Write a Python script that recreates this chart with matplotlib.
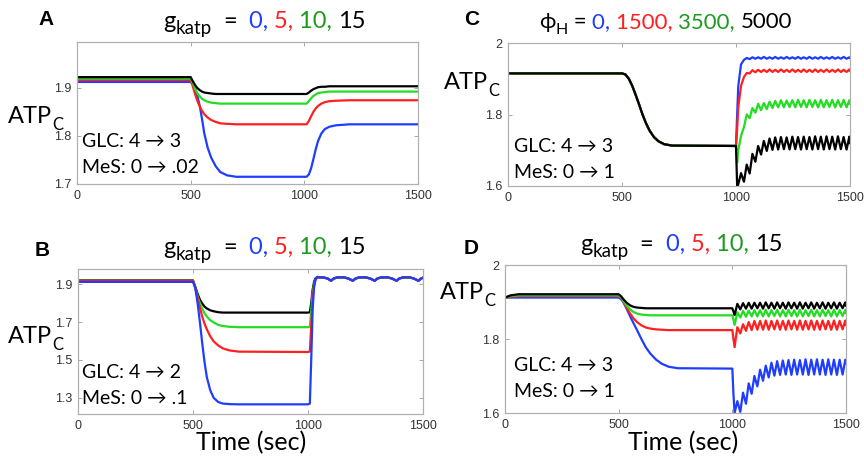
import numpy as np
import matplotlib
matplotlib.use('Agg')
from matplotlib import pyplot as plt

W, H = 864, 462

# Colours used for the four parameter values.
BLUE = '#1f3dff'
RED = '#ff1f1f'
GREEN = '#22dd22'
TITLE_GREEN = '#1e9a1e'
BLACK = '#000000'

x_ticks = [0, 500, 1000, 1500]

# Panel A: GLC 4 -> 3, MeS 0 -> .02
t_A = [0, 500, 510, 520, 530, 540, 550, 560, 575, 590, 610, 630, 660, 700,
       1000, 1010, 1020, 1030, 1040, 1050, 1060, 1075, 1090, 1110, 1140, 1200, 1500]
A_black = [1.922, 1.922, 1.913, 1.905, 1.899, 1.895, 1.892, 1.890, 1.889, 1.888, 1.887, 1.887, 1.887, 1.887,
           1.887, 1.887, 1.890, 1.894, 1.897, 1.899, 1.901, 1.902, 1.902, 1.903, 1.903, 1.903, 1.903]
A_green = [1.919, 1.919, 1.909, 1.897, 1.888, 1.882, 1.877, 1.874, 1.871, 1.869, 1.868, 1.867, 1.867, 1.867,
           1.867, 1.867, 1.872, 1.878, 1.883, 1.886, 1.889, 1.890, 1.891, 1.892, 1.892, 1.892, 1.892]
A_red = [1.916, 1.916, 1.902, 1.886, 1.872, 1.861, 1.852, 1.845, 1.838, 1.833, 1.829, 1.826, 1.825, 1.824,
         1.824, 1.824, 1.831, 1.841, 1.850, 1.857, 1.862, 1.867, 1.870, 1.872, 1.873, 1.874, 1.874]
A_blue = [1.912, 1.912, 1.907, 1.898, 1.882, 1.862, 1.835, 1.805, 1.775, 1.755, 1.737, 1.725, 1.718, 1.715,
          1.715, 1.715, 1.720, 1.733, 1.752, 1.772, 1.789, 1.805, 1.814, 1.819, 1.822, 1.824, 1.824]

# Panel B: GLC 4 -> 2, MeS 0 -> .1
t_B = [0, 500, 510, 520, 530, 540, 550, 560, 575, 590, 610, 630, 660, 700,
       1000, 1008, 1014, 1020, 1026, 1032, 1040, 1050]
B_black = [1.920, 1.920, 1.886, 1.849, 1.818, 1.798, 1.782, 1.772, 1.762, 1.757, 1.752, 1.750, 1.750, 1.750,
           1.750, 1.752, 1.800, 1.870, 1.910, 1.930, 1.938, 1.936]
B_green = [1.918, 1.918, 1.881, 1.837, 1.800, 1.771, 1.747, 1.729, 1.710, 1.698, 1.685, 1.679, 1.675, 1.673,
           1.673, 1.675, 1.760, 1.850, 1.900, 1.925, 1.937, 1.936]
B_red = [1.918, 1.918, 1.880, 1.828, 1.775, 1.730, 1.692, 1.662, 1.625, 1.598, 1.576, 1.561, 1.550, 1.544,
         1.542, 1.545, 1.680, 1.820, 1.890, 1.920, 1.937, 1.936]
B_blue = [1.912, 1.912, 1.880, 1.800, 1.700, 1.590, 1.490, 1.410, 1.340, 1.300, 1.278, 1.270, 1.267, 1.266,
          1.266, 1.270, 1.500, 1.760, 1.880, 1.925, 1.937, 1.936]
# after recovery all four traces coincide
t_B_tail = [1065, 1085, 1100, 1112, 1130, 1155, 1175, 1195, 1207, 1225, 1250, 1270, 1290,
            1302, 1320, 1345, 1365, 1385, 1397, 1415, 1440, 1460, 1480, 1492, 1500]
B_tail = [1.936, 1.930, 1.918, 1.930, 1.936, 1.936, 1.930, 1.918, 1.930, 1.936, 1.936, 1.930, 1.918,
          1.930, 1.936, 1.936, 1.930, 1.918, 1.930, 1.936, 1.936, 1.930, 1.918, 1.930, 1.934]

# Sample times for the oscillating part (C and D), peaks and troughs.
t_osc = [1000, 1005, 1010, 1022, 1035, 1047, 1060, 1072, 1085, 1097,
         1110, 1122, 1135, 1147, 1160, 1172, 1185, 1197, 1210, 1222,
         1235, 1247, 1260, 1272, 1285, 1297, 1310, 1322, 1335, 1347,
         1360, 1372, 1385, 1397, 1410, 1422, 1435, 1447, 1460, 1472,
         1485, 1497, 1500]

# Panel C: phi_H = 0, 1500, 3500, 5000 (identical before t=1000)
t_C_pre = [0, 500, 515, 530, 545, 560, 575, 590, 605, 620, 640, 660, 685, 720, 1000]
C_pre = [1.915, 1.915, 1.912, 1.900, 1.880, 1.855, 1.828, 1.800, 1.776, 1.756, 1.737, 1.725, 1.717, 1.713, 1.712]
C_blue = [1.712, 1.800, 1.880, 1.940, 1.953, 1.958, 1.955, 1.960, 1.956, 1.960,
          1.956, 1.961, 1.956, 1.960, 1.956, 1.961, 1.956, 1.960, 1.956, 1.961,
          1.956, 1.960, 1.956, 1.961, 1.956, 1.960, 1.956, 1.961, 1.956, 1.960,
          1.956, 1.961, 1.956, 1.960, 1.956, 1.961, 1.956, 1.960, 1.956, 1.961,
          1.956, 1.960, 1.958]
C_red = [1.712, 1.760, 1.820, 1.880, 1.905, 1.916, 1.915, 1.924, 1.918, 1.925,
         1.919, 1.925, 1.919, 1.926, 1.919, 1.925, 1.919, 1.926, 1.919, 1.925,
         1.919, 1.926, 1.919, 1.925, 1.919, 1.926, 1.919, 1.925, 1.919, 1.926,
         1.919, 1.925, 1.919, 1.926, 1.919, 1.925, 1.919, 1.926, 1.919, 1.925,
         1.919, 1.926, 1.922]
C_green = [1.712, 1.665, 1.700, 1.740, 1.765, 1.800, 1.790, 1.818, 1.805, 1.830,
           1.812, 1.832, 1.815, 1.836, 1.818, 1.838, 1.820, 1.840, 1.820, 1.839,
           1.821, 1.840, 1.820, 1.841, 1.821, 1.840, 1.820, 1.841, 1.821, 1.840,
           1.820, 1.841, 1.820, 1.840, 1.821, 1.841, 1.820, 1.840, 1.821, 1.841,
           1.820, 1.840, 1.830]
C_black = [1.712, 1.600, 1.605, 1.636, 1.612, 1.660, 1.635, 1.690, 1.668, 1.712,
           1.688, 1.726, 1.698, 1.733, 1.701, 1.736, 1.702, 1.737, 1.703, 1.736,
           1.702, 1.738, 1.703, 1.737, 1.702, 1.738, 1.703, 1.737, 1.702, 1.739,
           1.703, 1.738, 1.702, 1.739, 1.703, 1.738, 1.702, 1.739, 1.703, 1.737,
           1.702, 1.738, 1.720]

# Panel D: GLC 4 -> 3, MeS 0 -> 1
t_D_pre = [0, 25, 60, 500, 510, 520, 535, 550, 565, 580, 600, 620, 640, 665, 690, 720, 760, 1000]
D_black_pre = [1.912, 1.918, 1.921, 1.921, 1.916, 1.908, 1.898, 1.891, 1.887, 1.885, 1.884, 1.883, 1.883,
               1.883, 1.883, 1.883, 1.883, 1.883]
D_green_pre = [1.912, 1.916, 1.918, 1.918, 1.913, 1.904, 1.890, 1.880, 1.873, 1.869, 1.866, 1.865, 1.864,
               1.864, 1.864, 1.864, 1.864, 1.864]
D_red_pre = [1.912, 1.914, 1.916, 1.916, 1.911, 1.902, 1.885, 1.869, 1.856, 1.846, 1.837, 1.831, 1.828,
             1.826, 1.825, 1.824, 1.824, 1.824]
D_blue_pre = [1.912, 1.912, 1.912, 1.912, 1.908, 1.900, 1.882, 1.862, 1.843, 1.825, 1.800, 1.777, 1.760,
              1.744, 1.733, 1.725, 1.721, 1.720]
D_blue = [1.720, 1.650, 1.600, 1.632, 1.603, 1.655, 1.625, 1.680, 1.652, 1.700,
          1.672, 1.717, 1.687, 1.728, 1.696, 1.736, 1.701, 1.740, 1.703, 1.742,
          1.704, 1.743, 1.703, 1.744, 1.704, 1.743, 1.704, 1.745, 1.703, 1.744,
          1.704, 1.745, 1.704, 1.744, 1.703, 1.745, 1.704, 1.744, 1.703, 1.744,
          1.704, 1.744, 1.735]
D_red = [1.824, 1.800, 1.778, 1.832, 1.815, 1.840, 1.822, 1.846, 1.824, 1.849,
         1.825, 1.849, 1.825, 1.850, 1.825, 1.849, 1.826, 1.850, 1.825, 1.849,
         1.825, 1.850, 1.826, 1.849, 1.825, 1.850, 1.825, 1.849, 1.826, 1.850,
         1.825, 1.849, 1.825, 1.850, 1.826, 1.849, 1.825, 1.850, 1.825, 1.849,
         1.826, 1.850, 1.838]
D_green = [1.864, 1.852, 1.838, 1.872, 1.858, 1.876, 1.860, 1.877, 1.861, 1.878,
           1.861, 1.878, 1.861, 1.879, 1.861, 1.878, 1.862, 1.879, 1.861, 1.878,
           1.861, 1.879, 1.862, 1.878, 1.861, 1.879, 1.861, 1.878, 1.862, 1.879,
           1.861, 1.878, 1.861, 1.879, 1.862, 1.878, 1.861, 1.879, 1.861, 1.878,
           1.862, 1.879, 1.870]
D_black = [1.883, 1.874, 1.865, 1.895, 1.880, 1.897, 1.882, 1.898, 1.882, 1.898,
           1.883, 1.898, 1.882, 1.899, 1.883, 1.898, 1.882, 1.899, 1.883, 1.898,
           1.882, 1.899, 1.883, 1.898, 1.882, 1.899, 1.882, 1.898, 1.883, 1.899,
           1.882, 1.898, 1.883, 1.899, 1.882, 1.898, 1.883, 1.899, 1.882, 1.898,
           1.883, 1.899, 1.890]

TEXT_FONT = ['Lato', 'DejaVu Sans']
TICK_FONT = 'Liberation Sans'


def px_axes(fig, left, top, right, bottom):
  """Axes from pixel box (origin top-left)."""
  return fig.add_axes([left / W, 1 - bottom / H, (right - left) / W, (bottom - top) / H])


def style_axes(ax, ylim, yticks, ylabels):
  ax.set_xlim(0, 1500)
  ax.set_ylim(*ylim)
  ax.set_xticks(x_ticks, labels=[str(v) for v in x_ticks], fontfamily=TICK_FONT)
  ax.set_yticks(yticks, labels=ylabels, fontfamily=TICK_FONT)
  ax.tick_params(direction='in', length=3, width=0.6, color='#999999', labelsize=9,
                 labelcolor='#333333', top=True, right=True, pad=4)
  for s in ax.spines.values():
    s.set_color('#b0b0b0')
    s.set_linewidth(0.9)


def advance(fig, renderer, s, size):
  """Width in pixels of a string including spaces."""
  t1 = fig.text(0, 0, '|' + s + '|', fontsize=size, family=TEXT_FONT)
  t2 = fig.text(0, 0, '||', fontsize=size, family=TEXT_FONT)
  w = t1.get_window_extent(renderer).width - t2.get_window_extent(renderer).width
  t1.remove()
  t2.remove()
  return w


def rich_text(fig, x, y, pieces):
  """Draw (text, colour, size, dy) pieces one after another from pixel (x, y baseline)."""
  renderer = fig.canvas.get_renderer()
  for s, color, size, dy in pieces:
    fig.text(x / W, 1 - (y + dy) / H, s, color=color, fontsize=size, family=TEXT_FONT,
             ha='left', va='baseline')
    x += advance(fig, renderer, s, size)


def gkatp_title(fig, x, y):
  rich_text(fig, x, y, [('g', BLACK, 17, 0), ('katp', BLACK, 13.5, 6), ('  =  ', BLACK, 17, 0),
                        ('0, ', BLUE, 17, 0), ('5, ', RED, 17, 0), ('10, ', TITLE_GREEN, 17, 0),
                        ('15', BLACK, 17, 0)])


def atp_label(fig, x, y):
  rich_text(fig, x, y, [('ATP', BLACK, 17, 0), ('C', BLACK, 12, 7)])


def letter(fig, x, y, s):
  fig.text(x / W, 1 - y / H, s, fontsize=15, fontweight='bold', family=TICK_FONT,
           ha='left', va='baseline')


def note(fig, x, y, glc, mes):
  fig.text(x / W, 1 - y / H, 'GLC: ' + glc, fontsize=14, family=TEXT_FONT, va='baseline')
  fig.text(x / W, 1 - (y + 26) / H, 'MeS: ' + mes, fontsize=14, family=TEXT_FONT, va='baseline')


def main():
  fig = plt.figure(figsize=(W / 100, H / 100), dpi=100)
  lw = 1.6

  # Panel A
  axA = px_axes(fig, 77, 42, 418, 184)
  for y, c in [(A_blue, BLUE), (A_red, RED), (A_green, GREEN), (A_black, BLACK)]:
    axA.plot(t_A, y, color=c, lw=lw)
  style_axes(axA, (1.7, 1.995), [1.7, 1.8, 1.9], ['1.7', '1.8', '1.9'])

  # Panel B
  axB = px_axes(fig, 78, 269, 423, 414)
  for y, c in [(B_black, BLACK), (B_green, GREEN), (B_red, RED), (B_blue, BLUE)]:
    axB.plot(t_B + t_B_tail, y + B_tail, color=c, lw=lw)
  style_axes(axB, (1.215, 1.98), [1.3, 1.5, 1.7, 1.9], ['1.3', '1.5', '1.7', '1.9'])

  # Panel C
  axC = px_axes(fig, 508, 43, 850, 186)
  for y, c in [(C_blue, BLUE), (C_red, RED), (C_green, GREEN), (C_black, BLACK)]:
    axC.plot(t_C_pre + t_osc, C_pre + y, color=c, lw=lw)
  style_axes(axC, (1.6, 2.0), [1.6, 1.8, 2.0], ['1.6', '1.8', '2'])

  # Panel D
  axD = px_axes(fig, 505, 265, 846, 413)
  for pre, y, c in [(D_blue_pre, D_blue, BLUE), (D_red_pre, D_red, RED),
                    (D_green_pre, D_green, GREEN), (D_black_pre, D_black, BLACK)]:
    axD.plot(t_D_pre + t_osc, pre + y, color=c, lw=lw)
  style_axes(axD, (1.6, 2.0), [1.6, 1.8, 2.0], ['1.6', '1.8', '2'])

  # Titles, labels and annotations placed in pixel coordinates.
  letter(fig, 38, 25, 'A')
  letter(fig, 464, 25, 'C')
  letter(fig, 35, 256, 'B')
  letter(fig, 464, 254, 'D')

  gkatp_title(fig, 163, 28)
  gkatp_title(fig, 163, 254)
  gkatp_title(fig, 580, 251)
  rich_text(fig, 539, 28, [('\u03d5', BLACK, 16, 0), ('H', BLACK, 11.5, 6), (' = ', BLACK, 16, 0),
                           ('0, ', BLUE, 16, 0), ('1500, ', RED, 16, 0), ('3500, ', TITLE_GREEN, 16, 0),
                           ('5000', BLACK, 16, 0)])

  atp_label(fig, 8, 123)
  atp_label(fig, 444, 89)
  atp_label(fig, 8, 343)
  atp_label(fig, 440, 299)

  note(fig, 82, 147, '4 \u2192 3', '0 \u2192 .02')
  note(fig, 514, 152, '4 \u2192 3', '0 \u2192 1')
  note(fig, 82, 378, '4 \u2192 2', '0 \u2192 .1')
  note(fig, 514, 371, '4 \u2192 3', '0 \u2192 1')

  for cx in (251, 683):
    fig.text(cx / W, 1 - 450 / H, 'Time (sec)', fontsize=18, family=TEXT_FONT,
             ha='center', va='baseline')

  fig.savefig('out.png', dpi=100)


if __name__ == '__main__':
  main()
